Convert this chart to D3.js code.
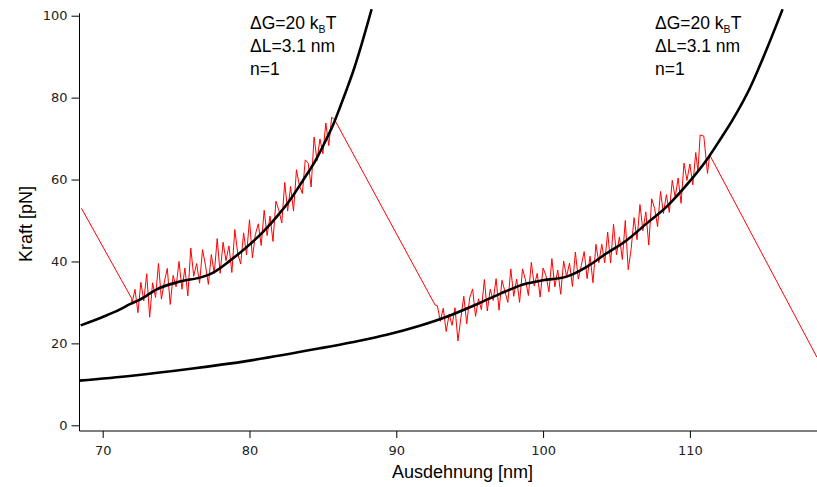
<!DOCTYPE html>
<html><head><meta charset="utf-8">
<script src="https://cdn.jsdelivr.net/npm/d3@7"></script>
<style>body{margin:0;background:#fff}svg{display:block}</style>
</head><body><svg id="c" width="817" height="487"></svg>
<script>
const xTicks=[70,80,90,100,110];
const yTicks=[0,20,40,60,80,100];
const xLabel="Ausdehnung [nm]";
const yLabel="Kraft [pN]";
// fit curves
const fit1X=[68.5,70.04,71.18,71.86,72.54,73.68,75.27,76.85,77.53,78.67,79.81,80.94,81.85,82.76,83.66,84.58,85.2,85.7,86.16,86.62,87.1,87.52,88.32];
const fit1Y=[24.4,26.5,28.3,29.6,30.7,33.2,35.1,36.3,37.3,40.2,43.5,47.3,50.9,55.0,59.9,65.2,69.6,73.4,77.6,82.0,86.8,91.6,101.6];
const fit2X=[68.4,72,76,80,84.8,87,89.35,91.6,93.43,95.25,97.06,98.88,100.0,101.6,102.97,104.33,105.7,107.06,108.42,109.78,111.14,112.05,112.9,114.1,115.23,116.32];
const fit2Y=[10.9,12.1,13.8,15.8,18.8,20.3,22.1,24.3,26.5,29.2,32.1,34.6,35.4,36.3,38.7,42.0,45.2,49.3,53.4,58.7,64.8,69.7,74.5,82.4,91.8,101.6];
// measured trace
const traceX=[68.55,71.97,
72.0,72.2,72.4,72.6,72.8,73.0,73.2,73.4,73.6,73.8,74.0,74.2,74.4,74.6,74.8,75.0,75.2,75.4,75.6,75.8,
76.0,76.2,76.4,76.6,76.8,77.0,77.2,77.4,77.6,77.8,78.0,78.2,78.4,78.6,78.8,79.0,79.2,79.4,79.6,79.8,
80.0,80.2,80.4,80.6,80.8,81.0,81.2,81.4,81.6,81.8,82.0,82.2,82.4,82.6,82.8,83.0,83.2,83.4,83.6,83.8,
84.0,84.2,84.4,84.6,84.8,85.0,85.2,85.4,85.6,85.8,
92.64,
92.8,93.0,93.2,93.4,93.6,93.8,94.0,94.2,94.4,94.6,94.8,95.0,95.2,95.4,95.6,95.8,96.0,96.2,96.4,96.6,96.8,
97.0,97.2,97.4,97.6,97.8,98.0,98.2,98.4,98.6,98.8,99.0,99.2,99.4,99.6,99.8,100.0,100.2,100.4,100.6,100.8,
101.0,101.2,101.4,101.6,101.8,102.0,102.2,102.4,102.6,102.8,103.0,103.2,103.4,103.6,103.8,104.0,104.2,104.4,104.6,104.8,
105.0,105.2,105.4,105.6,105.8,106.0,106.2,106.4,106.6,106.8,107.0,107.2,107.4,107.6,107.8,108.0,108.2,108.4,108.6,108.8,
109.0,109.2,109.4,109.6,109.8,110.0,110.2,110.4,110.55,110.7,110.95,111.2,111.35,
118.66];
const traceY=[53.0,31.0,
29.8,33.2,27.5,34.9,30.4,37.0,26.4,34.8,31.2,39.5,30.8,35.0,38.3,29.5,36.6,33.8,40.0,33.2,38.4,31.6,
43.3,36.4,39.5,34.7,42.9,39.1,34.4,41.7,37.1,45.6,37.1,44.7,40.2,43.8,37.3,47.8,41.9,39.4,47.0,41.6,
50.2,40.9,46.6,49.2,43.9,52.5,46.3,51.1,44.9,54.7,52.5,49.4,59.3,52.3,58.3,52.3,62.4,58.5,56.6,64.8,
64.0,58.2,70.4,64.6,69.9,66.3,73.8,68.3,75.2,74.6,
29.4,
29.2,25.4,28.6,22.9,27.1,24.4,28.7,20.6,26.2,31.5,24.8,31.1,33.3,26.6,30.9,28.2,35.6,27.9,33.2,30.5,35.8,
28.1,35.4,32.7,30.0,38.2,31.5,35.7,30.0,38.2,35.5,31.7,39.8,34.0,37.1,31.3,38.4,36.5,32.6,40.7,33.8,
37.9,32.0,40.1,36.3,39.6,33.9,42.3,35.7,39.0,42.4,35.8,41.3,34.8,44.2,39.7,44.2,39.7,47.2,39.6,49.1,
41.6,46.0,40.5,50.0,38.0,43.1,50.7,45.3,53.9,47.5,52.1,44.0,55.3,52.9,48.5,57.1,51.7,56.3,52.0,59.8,
55.6,60.4,54.2,64.0,59.8,63.8,58.7,66.6,62.0,70.9,70.6,61.5,66.0,
16.6];
const notes=[{x:250},{x:655}];

const svg=d3.select("#c");
const L=79.5,R=817,T=9,B=431;
const x=d3.scaleLinear().domain([68.42,118.66]).range([L,R]);
const y=d3.scaleLinear().domain([-1.39,101.64]).range([B,T]);
svg.append("defs").append("clipPath").attr("id","cp").append("rect")
  .attr("x",L).attr("y",T).attr("width",R-L).attr("height",B-T);
const g=svg.append("g").attr("clip-path","url(#cp)");
const line=d3.line().x(d=>x(d[0])).y(d=>y(d[1]));
const tr=d3.zip(traceX,traceY);
g.append("path").attr("d",line(tr)).attr("fill","none").attr("stroke","#ff0000").attr("stroke-width",1);
const cl=d3.line().curve(d3.curveMonotoneX).x(d=>x(d[0])).y(d=>y(d[1]));
g.append("path").attr("d",cl(d3.zip(fit1X,fit1Y))).attr("fill","none").attr("stroke","#000").attr("stroke-width",2.6);
g.append("path").attr("d",cl(d3.zip(fit2X,fit2Y))).attr("fill","none").attr("stroke","#000").attr("stroke-width",2.6);

const tf="DejaVu Sans, sans-serif";
const xa=svg.append("g").attr("transform",`translate(0,${B})`)
  .call(d3.axisBottom(x).tickValues(xTicks).tickSize(7).tickPadding(8).tickSizeOuter(0));
const ya=svg.append("g").attr("transform",`translate(${L},0)`)
  .call(d3.axisLeft(y).tickValues(yTicks).tickSize(8).tickPadding(4).tickSizeOuter(0));
[xa,ya].forEach(a=>{a.select(".domain").remove();a.selectAll("line").attr("stroke","#000");
  a.selectAll("text").attr("font-family",tf).attr("font-size",13).attr("fill","#222");});
svg.append("line").attr("x1",L).attr("x2",R).attr("y1",B).attr("y2",B).attr("stroke","#000");
svg.append("line").attr("x1",L).attr("x2",L).attr("y1",y(100.6)).attr("y2",B).attr("stroke","#000");

const af="Liberation Sans, Arial, sans-serif";
svg.append("text").attr("x",392).attr("y",478).attr("font-family",af).attr("font-size",18).text(xLabel);
svg.append("text").attr("transform","translate(32,262) rotate(-90)").attr("font-family",af).attr("font-size",18).text(yLabel);

notes.forEach(n=>{
  const t=svg.append("g").attr("font-family",af).attr("font-size",17.5).attr("fill","#000");
  const a=t.append("text").attr("x",n.x).attr("y",29);
  a.append("tspan").text("ΔG=20 k");
  a.append("tspan").attr("font-size",10.5).attr("dy",4).text("B");
  a.append("tspan").attr("dy",-4).text("T");
  t.append("text").attr("x",n.x).attr("y",52).text("ΔL=3.1 nm");
  t.append("text").attr("x",n.x).attr("y",75).text("n=1");
});
</script></body></html>
